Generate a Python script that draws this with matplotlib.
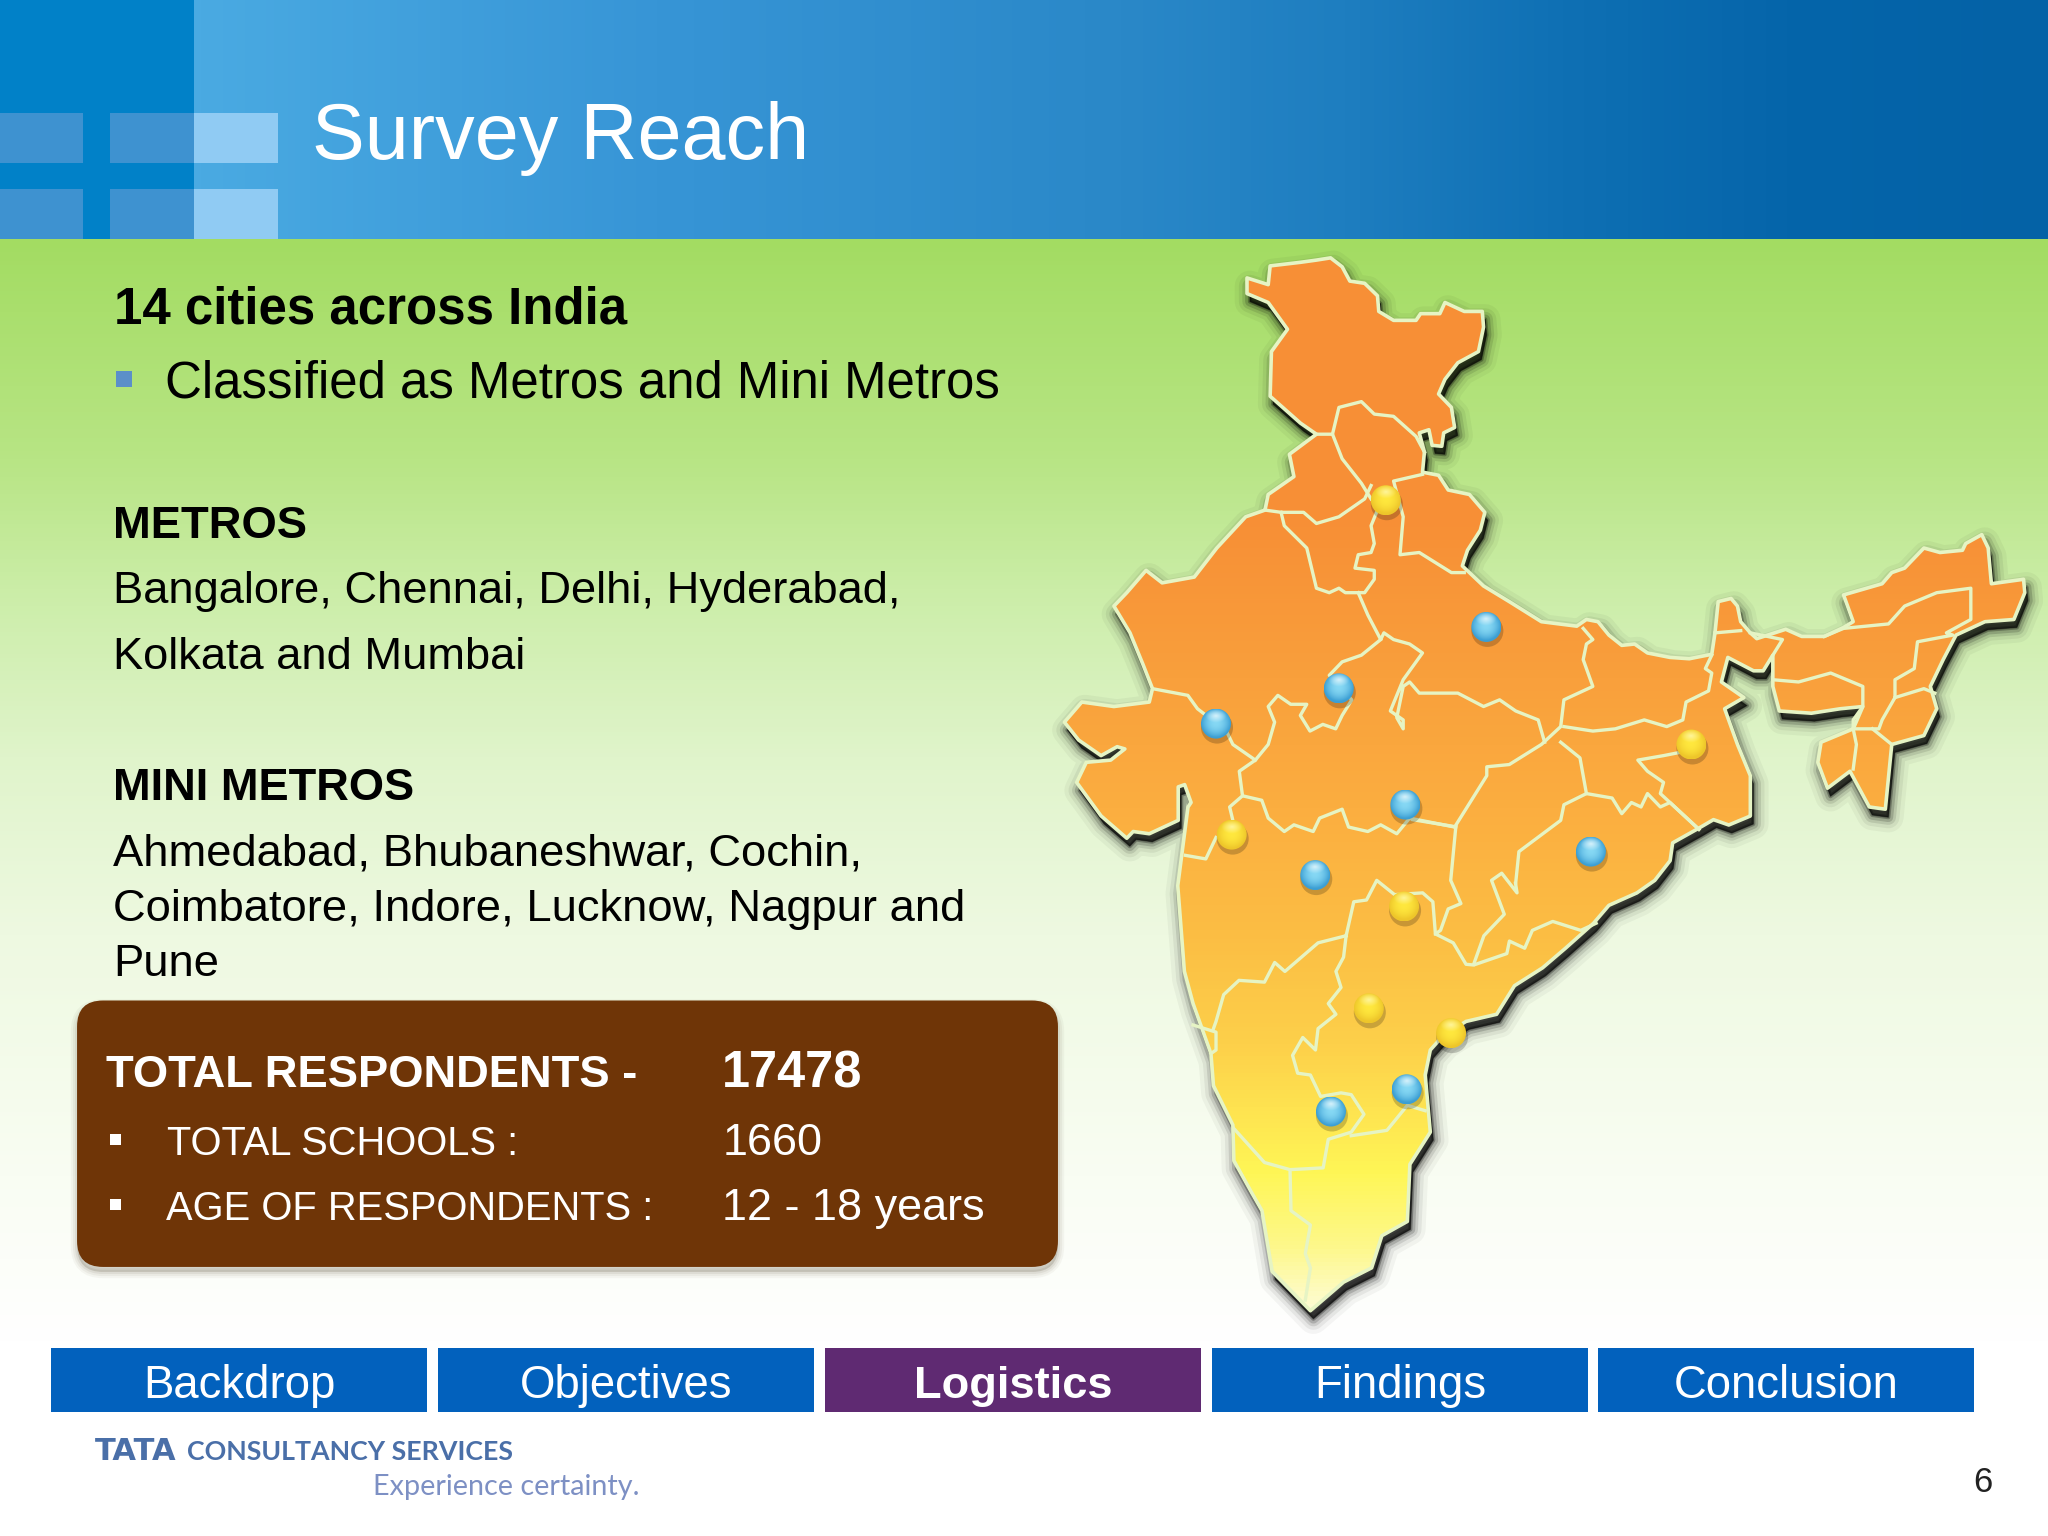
import numpy as np
import matplotlib
matplotlib.use("Agg")
import matplotlib.pyplot as plt
from matplotlib.colors import LinearSegmentedColormap, to_rgb
from matplotlib.patches import Polygon, Rectangle, FancyBboxPatch, Circle

plt.rcParams['font.family'] = ['Liberation Sans', 'DejaVu Sans']

# texts
title = "Survey Reach"
nav_labels = ["Backdrop", "Objectives", "Logistics", "Findings", "Conclusion"]
metros = ["Bangalore, Chennai, Delhi, Hyderabad,", "Kolkata and Mumbai"]
mini_metros = ["Ahmedabad, Bhubaneshwar, Cochin,", "Coimbatore, Indore, Lucknow, Nagpur and", "Pune"]
box_labels = ["TOTAL RESPONDENTS -", "TOTAL SCHOOLS :", "AGE OF RESPONDENTS :"]
box_values = ["17478", "1660", "12 - 18 years"]

# city pins, read in a 1568 wide copy of the slide
yellow_x = [1061, 1295, 943, 1075, 1048, 1111]
yellow_y = [383, 570, 639, 694, 772, 791]
blue_x = [1138, 1025, 931, 1076, 1218, 1007, 1077, 1019]
blue_y = [480, 527, 554, 616, 652, 670, 834, 851]

# map outline, north part traced on crop 1, south part on crop 2
outline_north = [(322,85),(355,100),(358,58),(405,50),(430,45),(452,40),(470,60),(482,92),(505,97),(525,125),
    (527,160),(550,180),(585,180),(592,165),(622,165),(630,140),(660,160),(688,160),(690,195),(682,250),(650,275),
    (630,312),(620,345),(640,375),(645,420),(628,432),(625,462),(610,460),(605,425),(590,432),(598,475),(595,520),
    (620,527),(635,560),(668,570),(692,610),(685,650),(665,695),(657,730),(690,775),(730,810),(780,855),(835,865),
    (850,850),(868,855),(885,885),(905,908),(925,905),(945,925),(980,935),(1010,938),(1045,928),(1050,880),(1055,810),
    (1075,803),(1085,820),(1090,855),(1105,880),(1115,893),(1160,872),(1185,888),(1220,888),(1250,868),(1265,855),
    (1250,795),(1310,770),(1325,745),(1345,735),(1375,690),(1400,700),(1435,695),(1440,680),(1465,660),(1475,690),
    (1480,770),(1530,760),(1532,790),(1515,850),(1470,855),(1425,885),(1405,940),(1385,1000),(1395,1050),(1375,1110),
    (1325,1130),(1315,1275),(1290,1270),(1260,1190),(1225,1228),(1210,1170),(1215,1125),(1265,1095),(1280,1045),
    (1245,1050),(1200,1060),(1150,1055),(1140,1000),(1140,930),(1125,965),(1110,965),(1070,935),(1060,990),(1095,1025),
    (1065,1050),(1085,1130),(1105,1200),(1105,1290)]
outline_south = [(1392,45),(1350,70),(1320,55),(1290,80),(1240,120),(1235,170),(1205,225),(1170,260),(1115,295),
    (1085,345),(1030,415),(985,470),(930,520),(895,600),(835,620),(790,660),(765,700),(755,770),(765,930),(725,1020),
    (720,1180),(670,1220),(650,1310),(595,1350),(530,1430),(455,1320),(435,1150),(415,1100),(380,1010),(378,910),
    (340,800),(335,710),(300,570),(283,480),(270,240),(290,20)]
outline_west = [(235,1260),(225,1220),(215,1225),(215,1300),(170,1330),(145,1325),(135,1340),(95,1290),(57,1215),
    (72,1170),(110,1165),(132,1140),(120,1135),(95,1155),(60,1120),(38,1080),(65,1035),(115,1045),(170,1035),(175,1005),
    (160,950),(140,880),(115,820),(135,790),(165,740),(190,768),(240,755),(275,690),(320,620),(350,605),(355,570),
    (395,530),(388,480),(430,435),(405,410),(358,350),(360,250),(385,200),(355,140),(322,120)]

# state borders
borders_north = [
    [(430,435),(455,435),(470,490),(500,545),(515,580)],
    [(455,435),(465,375),(500,362),(520,390),(550,395),(585,440),(598,475)],
    [(350,605),(375,610),(410,610),(430,635),(465,620),(505,580),(515,550)],
    [(375,610),(380,640),(415,690),(430,780),(450,790),(465,780),(475,790),(505,790),(520,760),(520,740),(490,735),
     (495,705),(515,700),(520,680),(515,640),(525,605)],
    [(595,525),(550,540),(565,620),(560,705),(590,700),(640,745),(660,745)],
    [(495,790),(510,840),(530,895),(535,880),(550,895),(575,905),(595,925),(565,985),(545,1055),(565,1075),(565,1095),
     (555,1070),(565,1000),(575,990),(590,1015),(650,1015),(690,1045),(715,1030),(740,1055),(775,1075),(785,1125)],
    [(530,895),(500,930),(470,945),(450,975),(485,1030),(470,1065),(460,1095),(440,1085),(420,1100),(405,1065),(415,1040),
     (390,1040),(370,1020),(355,1045),(365,1080),(355,1130),(335,1165),(310,1190),(315,1245),(295,1270),(300,1300)],
    [(175,1005),(230,1020),(245,1050),(290,1100),(300,1130),(335,1165)],
    [(315,1245),(345,1255),(355,1295),(380,1325),(395,1310),(425,1325),(435,1295),(470,1275),(480,1315),(510,1325),
     (530,1310),(555,1330),(575,1295),(645,1315)],
    [(645,1315),(695,1200),(695,1180),(730,1175),(780,1130),(810,1090),(815,1030),(860,1000),(845,940),(850,905),(860,895),(845,870)],
    [(815,1090),(860,1100),(895,1095),(940,1075),(975,1090),(1000,1075),(1005,1035),(1040,1010),(1045,970),(1035,960),(1045,930)],
    [(810,1125),(840,1160),(850,1240),(815,1265),(810,1300),(745,1370),(740,1440)],
    [(850,1240),(890,1250),(905,1285),(920,1260),(935,1270),(945,1240),(965,1270),(980,1260),(1025,1320)],
    [(1005,1145),(970,1155),(930,1165),(945,1190),(970,1215),(965,1240),(1025,1320)],
    [(1220,888),(1250,870),(1320,860),(1345,820),(1395,790),(1448,780),(1448,850),(1410,880),(1420,885),(1365,900),
     (1360,960),(1330,985),(1330,1025),(1310,1075),(1305,1095),(1265,1095)],
    [(1140,985),(1180,990),(1230,970),(1280,1000),(1280,1045),(1265,1075),(1265,1095),(1270,1130),(1265,1185)],
    [(1330,1025),(1375,1005),(1392,1015)],
    [(1295,1095),(1325,1130)],
    [(1050,880),(1090,875)],
    [(1105,880),(1155,895),(1140,930)],
]
borders_south = [
    [(285,155),(325,165),(345,105)],
    [(815,75),(805,225),(825,290),(800,305),(785,365),(775,375),(810,400),(835,460),(850,462),(915,430),(920,395),
     (950,415),(965,365),(1005,340),(1060,365),(1090,345)],
    [(730,55),(815,75)],
    [(600,380),(615,285),(640,280),(660,225),(695,265),(750,260),(770,285),(775,375)],
    [(600,380),(545,400),(480,480),(460,455),(440,510),(390,505),(360,545),(345,620),(340,640)],
    [(600,380),(595,440),(580,480),(590,525),(565,570),(580,600),(545,640),(540,700),(515,665),(495,715),(505,765),
     (530,770),(550,830),(590,820),(610,825),(635,880),(610,930),(565,950),(555,1030),(490,1035),(440,1015),(380,920)],
    [(610,940),(680,925),(720,855),(755,870)],
    [(490,1035),(492,1150),(530,1190),(520,1270),(530,1310),(520,1400)],
    [(300,630),(345,650),(345,700),(335,710)],
    [(932,233),(935,260),(905,205),(885,225),(910,320),(870,380),(850,460)],
]

# colour stops as (position 0-1, colour)
header_stops = [(0, "#4aaae2"), (0.25, "#3795d6"), (0.5, "#2a88c8"), (0.62, "#1e7ec0"), (0.74, "#0f70b4"),
                (0.86, "#0565aa"), (1, "#0462a6")]
green_stops = [(0, "#a3dc62"), (0.2, "#b8e585"), (0.33, "#cdeeab"), (0.47, "#e0f4cb"), (0.63, "#eef9e1"), (0.85, "#f9fdf3"), (1, "#ffffff")]
map_stops = [(0, "#f78f36"), (0.25, "#f78f36"), (0.4, "#f9a03c"), (0.52, "#fbae40"), (0.64, "#fbbe44"), (0.74, "#fdd04a"),
             (0.86, "#fff656"), (0.93, "#fdf88c"), (1, "#fdfde6")]

SCALE = 2048 / 1568  # slide copy -> output pixels


def crop1(pts):
    return [(1040 + x / 1.5556, 240 + y / 2.24) for x, y in pts]


def crop2(pts):
    return [(1040 + x / 1.96, 800 + y / 2.8) for x, y in pts]


def grad(stops, vertical=True):
    cmap = LinearSegmentedColormap.from_list("g", stops)
    v = np.linspace(0, 1, 256)
    return (v[:, None] if vertical else v[None, :]), cmap


def txt(x, y, s, size, color="black", weight="normal", **kw):
    # x, y baseline in slide copy coordinates
    return ax.text(x * SCALE, y * SCALE, s, fontsize=size, color=color, fontweight=weight,
                   va="baseline", zorder=8, **kw)


fig = plt.figure(figsize=(20.48, 15.36), dpi=100)
ax = fig.add_axes([0, 0, 1, 1])

# background
arr, cm = grad(green_stops)
ax.imshow(arr, cmap=cm, extent=(0, 2048, 1345, 239), aspect="auto", zorder=0)
ax.add_patch(Rectangle((0, 1345), 2048, 191, fc="white", ec="none", zorder=0))

# header band
arr, cm = grad(header_stops, vertical=False)
ax.imshow(arr, cmap=cm, extent=(194, 2048, 239, 0), aspect="auto", zorder=1)
ax.add_patch(Rectangle((0, 0), 194, 239, fc="#0181c8", ec="none", zorder=2))
for x0, x1, c in [(0, 83, "#3e92d0"), (110, 194, "#3e92d0"), (194, 278, "#90cbf3")]:
    for y0, y1 in [(113, 163), (189, 239)]:
        ax.add_patch(Rectangle((x0, y0), x1 - x0, y1 - y0, fc=c, ec="none", zorder=3))
txt(239, 122, title, 57, color="white")

# left column
txt(87, 248, "14 cities across India", 36.7, weight="bold")
ax.add_patch(Rectangle((89 * SCALE, 284 * SCALE), 16, 16, fc="#5b8fc9", ec="none", zorder=8))
txt(126, 304, "Classified as Metros and Mini Metros", 36.75)
txt(86.5, 412, "METROS", 32.7, weight="bold")
for y, s in zip([462, 512], metros):
    txt(86.5, y, s, 32.6)
txt(86.5, 612.5, "MINI METROS", 32.6, weight="bold")
for y, s in zip([663, 705, 747], mini_metros):
    txt(86.5, y, s, 32.7)

# brown box
bx, by, bw, bh = 59 * SCALE, 766 * SCALE, 751 * SCALE, 204 * SCALE
for w, a in [(9, 0.04), (6, 0.05), (3, 0.07)]:
    ax.add_patch(FancyBboxPatch((bx, by + 5), bw, bh, boxstyle="round,pad=0,rounding_size=26", fc="#3a2a10",
                                ec="#3a2a10", lw=w, alpha=a, zorder=4))
ax.add_patch(FancyBboxPatch((bx, by), bw, bh, boxstyle="round,pad=0,rounding_size=26", fc="#6f3507", ec="none", zorder=5))
txt(81.5, 832, box_labels[0], 32.7, color="white", weight="bold")
txt(128, 884, box_labels[1], 28.7, color="white")
txt(127, 934, box_labels[2], 28.7, color="white")
txt(553, 833, box_values[0], 36.4, color="white", weight="bold")
txt(553, 884, box_values[1], 32.4, color="white")
txt(553, 934, box_values[2], 32.4, color="white")
for y in [873, 923]:
    ax.add_patch(Rectangle((84 * SCALE, (y - 5) * SCALE), 11, 11, fc="white", ec="none", zorder=8))

# map
outline = np.array(crop1(outline_north) + crop2(outline_south) + crop1(outline_west))
for w, a in [(22, 0.04), (16, 0.06), (11, 0.10), (7, 0.16), (3, 0.28), (1, 0.4)]:
    ax.add_patch(Polygon(outline + np.array([3, 8]), closed=True, fc="black", ec="black", lw=w, alpha=a,
                         joinstyle="round", zorder=5))
arr, cm = grad(map_stops)
map_img = ax.imshow(arr, cmap=cm, extent=(1040, 2048, 1325, 250), aspect="auto", zorder=6)
map_img.set_clip_path(Polygon(outline, closed=True, transform=ax.transData))
ax.add_patch(Polygon(outline, closed=True, fc="none", ec="#e6f4c4", lw=2.6, joinstyle="round", zorder=7))
for line in [crop1(b) for b in borders_north] + [crop2(b) for b in borders_south]:
    line = np.array(line)
    ax.plot(line[:, 0], line[:, 1], color="#e6f4c4", lw=2.4, solid_joinstyle="round", zorder=7)


def pin(x, y, edge, mid, top):
    x, y = x * SCALE, y * SCALE
    ax.add_patch(Circle((x + 1, y + 4), 16, fc="black", ec="none", alpha=0.2, zorder=8))
    u, v = np.meshgrid(np.linspace(-1, 1, 64), np.linspace(-1, 1, 64))
    d = np.clip(np.sqrt(u**2 + (v + 0.1)**2), 0, 1)[..., None]
    rgb = np.array(to_rgb(mid)) * (1 - d**2) + np.array(to_rgb(edge)) * d**2
    hi = np.clip(1 - np.sqrt((u * 1.4)**2 + ((v + 0.55) * 2.2)**2), 0, 1)[..., None]
    rgb = rgb * (1 - hi) + np.array(to_rgb(top)) * hi
    im = ax.imshow(rgb, extent=(x - 15, x + 15, y + 15, y - 15), aspect="auto", zorder=9)
    im.set_clip_path(Circle((x, y), 15, transform=ax.transData))


for x, y in zip(yellow_x, yellow_y):
    pin(x, y, "#eec62a", "#ffe83e", "#fff59a")
for x, y in zip(blue_x, blue_y):
    pin(x, y, "#3c9fd4", "#86d8f4", "#d6f2fb")

# nav bar
nav_left = [51, 438, 825, 1212, 1598]
for x0, s in zip(nav_left, nav_labels):
    active = s == "Logistics"
    ax.add_patch(Rectangle((x0, 1348), 376, 64, fc="#5f2a72" if active else "#0261bd", ec="none", zorder=5))
    ax.text(x0 + 188, 1398, s, color="white", fontsize=32.8 if not active else 32.6, fontweight="bold" if active else "normal",
            ha="center", va="baseline", zorder=8)

# logo text and page number
ax.text(95, 1460, "TATA", fontsize=22, color="#4a6fa8", fontweight="bold", family=["DejaVu Sans"], va="baseline")
ax.text(187, 1460, "CONSULTANCY SERVICES", fontsize=19.3, color="#4a6fa8", fontweight="bold",
        family=["Lato", "DejaVu Sans"], va="baseline")
ax.text(373, 1495, "Experience certainty.", fontsize=20.7, color="#7d90c4", family=["Lato", "DejaVu Sans"], va="baseline")
txt(1511, 1142, "6", 25, color="#222222")

ax.set_xlim(0, 2048)
ax.set_ylim(1536, 0)
ax.axis("off")
fig.savefig("out.png", dpi=100)
